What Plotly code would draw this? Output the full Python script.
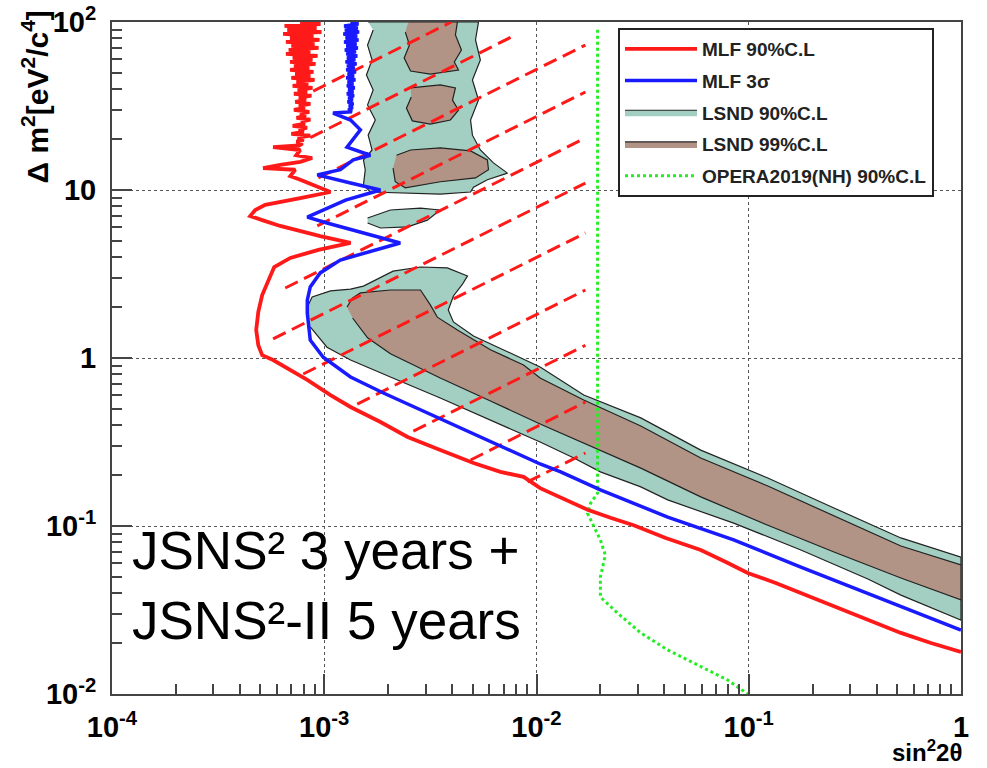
import plotly.graph_objects as go

# ---------------- data (sin^2 2theta , delta m^2 [eV^2/c^4]) ----------------
mlf90_s2t = [7.7e-4, 9.6e-4, 6.5e-4, 9.2e-4, 6.7e-4, 9.7e-4, 6.4e-4, 8.9e-4, 6.9e-4, 9.5e-4,
             6.6e-4, 9.0e-4, 7.0e-4, 9.4e-4, 6.8e-4, 8.6e-4, 6.6e-4, 9.3e-4, 7.1e-4, 8.8e-4,
             6.9e-4, 9.1e-4, 7.2e-4, 8.5e-4, 6.9e-4, 8.9e-4, 7.3e-4, 8.6e-4, 7.0e-4, 9.0e-4,
             7.4e-4, 8.4e-4, 7.1e-4, 8.8e-4, 7.5e-4, 8.3e-4, 7.2e-4, 8.7e-4, 7.6e-4, 8.2e-4,
             7.3e-4, 8.6e-4, 7.6e-4, 8.1e-4, 7.2e-4, 8.5e-4, 7.7e-4, 8.2e-4, 7.4e-4, 8.6e-4,
             7.8e-4, 8.1e-4, 7.1e-4, 8.3e-4, 7.6e-4, 8.0e-4, 7.0e-4, 8.6e-4, 7.5e-4, 8.0e-4,
             7.4e-4, 7.9e-4, 7.6e-4, 5.74e-4, 7.71e-4,
             7.38e-4, 8.77e-4, 7.71e-4, 6.20e-4, 5.15e-4, 7.30e-4, 6.92e-4, 7.71e-4, 1.07e-3, 7.71e-4,
             5.27e-4, 4.73e-4, 4.48e-4, 5.10e-4, 6.20e-4, 9.57e-4, 1.33e-3, 9.38e-4, 6.92e-4, 5.81e-4,
             5.44e-4, 5.10e-4, 4.89e-4, 4.78e-4, 4.89e-4, 5.10e-4, 5.74e-4, 6.92e-4, 8.32e-4, 1.07e-3,
             1.33e-3, 1.84e-3, 2.47e-3, 3.52e-3, 5.05e-3, 6.76e-3, 8.69e-3, 1.04e-2, 1.37e-2, 1.74e-2,
             2.23e-2, 2.87e-2, 4.06e-2, 5.94e-2, 7.80e-2, 9.89e-2, 0.134, 0.176, 0.231, 0.303,
             0.397, 0.521, 0.722, 1.0]
mlf90_dm2 = [100, 97.3, 94.7, 92.1, 89.6, 87.2, 84.9, 82.6, 80.3, 78.2,
             76.1, 74.0, 72.0, 70.1, 68.2, 66.4, 64.6, 62.8, 61.1, 59.5,
             57.9, 56.3, 54.8, 53.3, 51.9, 50.5, 49.1, 47.8, 46.5, 45.3,
             44.0, 42.9, 41.7, 40.6, 39.5, 38.4, 37.4, 36.4, 35.4, 34.4,
             33.5, 32.6, 31.7, 30.9, 30.0, 29.2, 28.4, 27.7, 26.9, 26.2,
             25.5, 24.8, 24.1, 23.5, 22.9, 22.2, 21.6, 21.1, 20.5, 19.9,
             19.4, 18.9, 18.4, 18.0, 17.3,
             16.1, 15.5, 14.7, 14.1, 13.5, 13.2, 12.1, 11.5, 9.73, 8.95,
             8.15, 7.60, 7.00, 6.62, 6.11, 5.32, 4.84, 4.40, 3.94, 3.48,
             2.91, 2.37, 1.88, 1.47, 1.19, 1.04, 0.973, 0.849, 0.740, 0.602,
             0.511, 0.416, 0.339, 0.283, 0.237, 0.210, 0.196, 0.168, 0.143, 0.125,
             0.112, 0.101, 0.0849, 0.0720, 0.0611, 0.0525, 0.0458, 0.0399, 0.0348, 0.0303,
             0.0265, 0.0231, 0.0201, 0.0178]

mlf3s_s2t = [1.33e-3, 1.45e-3, 1.24e-3, 1.44e-3, 1.25e-3, 1.46e-3, 1.23e-3, 1.43e-3, 1.26e-3, 1.45e-3,
             1.24e-3, 1.42e-3, 1.27e-3, 1.44e-3, 1.25e-3, 1.41e-3, 1.27e-3, 1.43e-3, 1.28e-3, 1.40e-3,
             1.26e-3, 1.42e-3, 1.28e-3, 1.39e-3, 1.27e-3, 1.41e-3, 1.29e-3, 1.38e-3, 1.27e-3, 1.40e-3,
             1.29e-3, 1.37e-3, 1.28e-3, 1.39e-3, 1.30e-3, 1.37e-3, 1.28e-3, 1.38e-3, 1.30e-3, 1.36e-3,
             1.29e-3, 1.37e-3, 1.31e-3, 1.36e-3, 1.30e-3, 1.35e-3,
             1.10e-3, 1.33e-3, 1.48e-3, 1.28e-3, 1.65e-3, 1.37e-3, 1.19e-3,
             9.27e-4, 1.33e-3, 1.84e-3, 1.26e-3, 8.32e-4, 1.03e-3, 2.28e-3, 1.19e-3, 9.57e-4, 8.59e-4,
             8.32e-4, 8.32e-4, 8.59e-4, 9.89e-4, 1.33e-3, 1.90e-3, 3.06e-3, 5.05e-3, 7.54e-3, 1.04e-2,
             1.30e-2, 2.00e-2, 4.15e-2, 8.49e-2, 0.176, 0.364, 0.627, 1.0]
mlf3s_dm2 = [100, 97.3, 94.7, 92.1, 89.6, 87.2, 84.9, 82.6, 80.3, 78.2,
             76.1, 74.0, 72.0, 70.1, 68.2, 66.4, 64.6, 62.8, 61.1, 59.5,
             57.9, 56.3, 54.8, 53.3, 51.9, 50.5, 49.1, 47.8, 46.5, 45.3,
             44.0, 42.9, 41.7, 40.6, 39.5, 38.4, 37.4, 36.4, 35.4, 34.4,
             33.5, 32.6, 31.7, 30.9, 30.0, 29.2,
             28.7, 26.1, 22.8, 18.0, 16.1, 15.1, 13.2,
             12.3, 11.0, 10.0, 8.71, 6.90, 6.36, 4.84, 3.83, 3.21, 2.65,
             2.21, 1.85, 1.28, 1.01, 0.771, 0.619, 0.471, 0.358, 0.283, 0.234,
             0.210, 0.164, 0.113, 0.0826, 0.0570, 0.0399, 0.0303, 0.0240]

# LSND 90% C.L. islands (None separates islands)
lsnd90_s2t = [1.61e-3, 5.33e-3, 5.16e-3, 5.44e-3, 4.99e-3, 5.33e-3, 4.89e-3, 4.99e-3, 5.44e-3, 6.27e-3,
              7.30e-3, 5.87e-3, 5.05e-3, 4.89e-3, 3.52e-3, 2.28e-3, 1.65e-3, 1.53e-3, 1.56e-3, 1.53e-3,
              1.68e-3, 1.61e-3, 1.74e-3, 1.60e-3, 1.70e-3, 1.58e-3, 1.68e-3, 1.60e-3, 1.70e-3, None,
              1.60e-3, 2.05e-3, 2.84e-3, 3.52e-3, 3.06e-3, 2.47e-3, 1.84e-3, 1.60e-3, None,
              8.32e-4, 8.77e-4, 1.07e-3, 1.33e-3, 1.53e-3, 1.80e-3, 2.11e-3, 2.84e-3, 3.80e-3, 4.73e-3,
              4.48e-3, 4.06e-3, 3.84e-3, 4.06e-3, 5.05e-3, 7.30e-3, 1.04e-2, 1.67e-2, 3.10e-2, 5.94e-2,
              0.123, 0.252, 0.521, 1.0, 1.0, 0.521, 0.364, 0.176, 8.49e-2, 4.15e-2,
              3.10e-2, 2.00e-2, 1.50e-2, 1.04e-2, 6.07e-3, 3.52e-3, 2.05e-3, 1.33e-3, 1.03e-3, 8.59e-4]
lsnd90_dm2 = [100, 100, 78.2, 59.4, 45.2, 34.3, 26.1, 21.2, 17.3, 14.5,
              12.6, 11.5, 10.4, 9.73, 9.46, 9.59, 9.73, 10.7, 13.2, 15.1,
              17.3, 21.2, 26.1, 32.1, 39.4, 48.4, 59.4, 72.9, 89.6, None,
              6.81, 7.60, 7.81, 7.60, 6.62, 6.03, 5.94, 6.36, None,
              2.01, 2.31, 2.51, 2.57, 2.68, 2.99, 3.29, 3.48, 3.44, 3.08,
              2.75, 2.34, 1.93, 1.64, 1.35, 1.09, 0.883, 0.602, 0.440, 0.283,
              0.193, 0.128, 0.0849, 0.0653, 0.0275, 0.0388, 0.0484, 0.0720, 0.104, 0.143,
              0.171, 0.210, 0.254, 0.316, 0.428, 0.578, 0.771, 0.973, 1.16, 1.53]

# LSND 99% C.L. islands
lsnd99_s2t = [2.49e-3, 4.24e-3, 4.15e-3, 4.43e-3, 4.10e-3, 4.29e-3, 3.16e-3, 2.55e-3, 2.38e-3, 2.52e-3, 2.41e-3, None,
              2.55e-3, 3.52e-3, 4.15e-3, 4.02e-3, 4.29e-3, 3.93e-3, 3.16e-3, 2.60e-3, 2.44e-3, 2.57e-3, None,
              2.19e-3, 2.55e-3, 3.52e-3, 4.89e-3, 5.87e-3, 5.94e-3, 5.16e-3, 3.52e-3, 2.41e-3, 2.16e-3, 2.11e-3, None,
              1.28e-3, 1.36e-3, 1.48e-3, 2.05e-3, 2.84e-3, 3.16e-3, 3.41e-3, 4.24e-3, 6.07e-3, 8.69e-3,
              1.04e-2, 1.67e-2, 3.10e-2, 5.94e-2, 0.123, 0.252, 0.521, 1.0, 1.0, 0.521,
              0.252, 0.123, 5.94e-2, 3.10e-2, 1.80e-2, 1.04e-2, 6.07e-3, 3.52e-3, 2.05e-3, 1.60e-3, 1.36e-3]
lsnd99_dm2 = [100, 100, 83.7, 68.1, 57.8, 51.8, 49.0, 51.1, 61.1, 72.9, 87.1, None,
              40.5, 42.2, 40.5, 34.3, 29.9, 26.1, 24.7, 25.8, 30.7, 35.8, None,
              16.1, 17.3, 17.8, 17.1, 15.1, 13.2, 11.8, 11.2, 10.3, 11.2, 13.5, None,
              2.01, 2.28, 2.44, 2.54, 2.54, 2.07, 1.75, 1.47, 1.12, 0.908,
              0.760, 0.562, 0.394, 0.254, 0.173, 0.115, 0.0760, 0.0586, 0.0363, 0.0490,
              0.0700, 0.101, 0.149, 0.221, 0.299, 0.405, 0.555, 0.760, 1.06, 1.32, 1.73]

# OPERA 2019 (NH) 90% C.L.
opera_s2t = [1.94e-2, 1.94e-2, 1.80e-2, 1.74e-2, 2.00e-2, 2.11e-2, 2.00e-2, 2.00e-2, 2.41e-2, 3.10e-2,
             4.15e-2, 5.94e-2, 7.96e-2, 9.89e-2]
opera_dm2 = [90, 0.157, 0.137, 0.119, 0.0826, 0.0672, 0.0497, 0.0378, 0.0303, 0.0231,
             0.0183, 0.0145, 0.0121, 0.0100]

# hatch segments of the MLF exclusion band (start / end points)
hatch_s2t_start = [8.87e-4, 8.59e-4, 9.38e-4, 9.27e-4, 6.55e-4, 5.74e-4, 7.96e-4, 1.43e-3, 2.63e-3, 4.89e-3, 9.07e-3]
hatch_dm2_start = [38.8, 20.5, 11.8, 6.11, 2.61, 1.30, 0.803, 0.532, 0.367, 0.247, 0.183]
hatch_s2t_end = [3.97e-3, 7.71e-3, 1.70e-2, 1.70e-2, 1.70e-2, 1.70e-2, 1.70e-2, 1.70e-2, 1.70e-2, 1.70e-2, 1.70e-2]
hatch_dm2_end = [100, 82.0, 72.9, 38.3, 20.4, 11.0, 5.55, 2.54, 1.19, 0.547, 0.272]

x_tick_vals = [1e-4, 1e-3, 1e-2, 1e-1, 1]
x_tick_text = ["10<sup>-4</sup>", "10<sup>-3</sup>", "10<sup>-2</sup>", "10<sup>-1</sup>", "1"]
y_tick_vals = [1e-2, 1e-1, 1, 10, 100]
y_tick_text = ["10<sup>-2</sup>", "10<sup>-1</sup>", "1", "10", "10<sup>2</sup>"]

# ---------------- figure ----------------
W, H = 987, 768
ML, MR, MT, MB = 112, 26, 22, 74
PW, PH = W - ML - MR, H - MT - MB

def px_x(p):
    return (p - ML) / PW

def px_y(p):
    return (H - MB - p) / PH

FONT = "Liberation Sans, Arial, Helvetica, sans-serif"
teal = "#a2cfc1"
brown = "#b19485"

fig = go.Figure()

fig.add_trace(go.Scatter(x=lsnd90_s2t, y=lsnd90_dm2, mode="lines", fill="toself", fillcolor=teal,
                         line=dict(color="#222222", width=1.2), name="LSND 90%C.L",
                         legendrank=3, legendgroup="c", connectgaps=False))
fig.add_trace(go.Scatter(x=lsnd99_s2t, y=lsnd99_dm2, mode="lines", fill="toself", fillcolor=brown,
                         line=dict(color="#222222", width=1.2), name="LSND 99%C.L",
                         legendrank=4, legendgroup="d", connectgaps=False))

hx, hy = [], []
for a, b, c, d in zip(hatch_s2t_start, hatch_dm2_start, hatch_s2t_end, hatch_dm2_end):
    hx += [a, c, None]
    hy += [b, d, None]
fig.add_trace(go.Scatter(x=hx, y=hy, mode="lines", showlegend=False, hoverinfo="skip",
                         line=dict(color="#ff1a1a", width=3, dash="14px,7px")))

fig.add_trace(go.Scatter(x=opera_s2t, y=opera_dm2, mode="lines", name="OPERA2019(NH) 90%C.L",
                         line=dict(color="#22ee22", width=3, dash="dot"), legendrank=5, legendgroup="e"))
fig.add_trace(go.Scatter(x=mlf3s_s2t, y=mlf3s_dm2, mode="lines", name="MLF 3σ",
                         line=dict(color="#1a1aff", width=3.5), legendrank=2, legendgroup="b"))
fig.add_trace(go.Scatter(x=mlf90_s2t, y=mlf90_dm2, mode="lines", name="MLF 90%C.L",
                         line=dict(color="#ff1a1a", width=3.8), legendrank=1, legendgroup="a"))

axis_common = dict(type="log", showline=True, mirror=True, linecolor="#444444", linewidth=2,
                   ticks="inside", ticklen=20, tickwidth=1.5, tickcolor="#444444",
                   showgrid=True, gridcolor="#555555", griddash="dot", gridwidth=1,
                   zeroline=False, tickmode="array", automargin=False,
                   tickfont=dict(family=FONT, size=29, color="black", weight="bold"))

minor_x = [m * 10 ** e for e in range(-4, 0) for m in range(2, 10)]
minor_y = [m * 10 ** e for e in range(-2, 2) for m in range(2, 10)]

fig.update_xaxes(**axis_common, range=[-4, 0], tickvals=x_tick_vals, ticktext=x_tick_text,
                 ticklabelstandoff=6,
                 minor=dict(tickmode="array", tickvals=minor_x, ticks="inside", ticklen=10,
                            tickwidth=1.5, tickcolor="#444444", showgrid=False))
fig.update_yaxes(**axis_common, range=[-2, 2], tickvals=y_tick_vals, ticktext=y_tick_text,
                 ticklabelstandoff=8,
                 minor=dict(tickmode="array", tickvals=minor_y, ticks="inside", ticklen=10,
                            tickwidth=1.5, tickcolor="#444444", showgrid=False))

annotations = [
    dict(text="Δ m<sup>2</sup>[eV<sup>2</sup>/c<sup>4</sup>]", textangle=-90, xref="paper", yref="paper",
         x=px_x(36), y=px_y(9), xanchor="center", yanchor="top", showarrow=False,
         font=dict(family=FONT, size=30, color="black", weight="bold")),
    dict(text="sin<sup>2</sup>2θ", xref="paper", yref="paper", x=px_x(964), y=px_y(768),
         xanchor="right", yanchor="bottom", showarrow=False,
         font=dict(family=FONT, size=24, color="black", weight="bold")),
    dict(text="JSNS² 3 years +", xref="paper", yref="paper", x=px_x(130), y=px_y(550),
         xanchor="left", yanchor="middle", showarrow=False,
         font=dict(family=FONT, size=53, color="black")),
    dict(text="JSNS²-II 5 years", xref="paper", yref="paper", x=px_x(130), y=px_y(620),
         xanchor="left", yanchor="middle", showarrow=False,
         font=dict(family=FONT, size=53, color="black")),
]

fig.update_layout(
    width=W, height=H, margin=dict(l=ML, r=MR, t=MT, b=MB, pad=0),
    paper_bgcolor="white", plot_bgcolor="white",
    annotations=annotations,
    legend=dict(x=px_x(618), y=px_y(28), xanchor="left", yanchor="top",
                bgcolor="white", bordercolor="#222222", borderwidth=2,
                font=dict(family=FONT, size=19, color="#222222", weight="bold"),
                itemwidth=72, tracegroupgap=4, traceorder="grouped"),
    showlegend=True,
)

fig.write_html("out.html")
